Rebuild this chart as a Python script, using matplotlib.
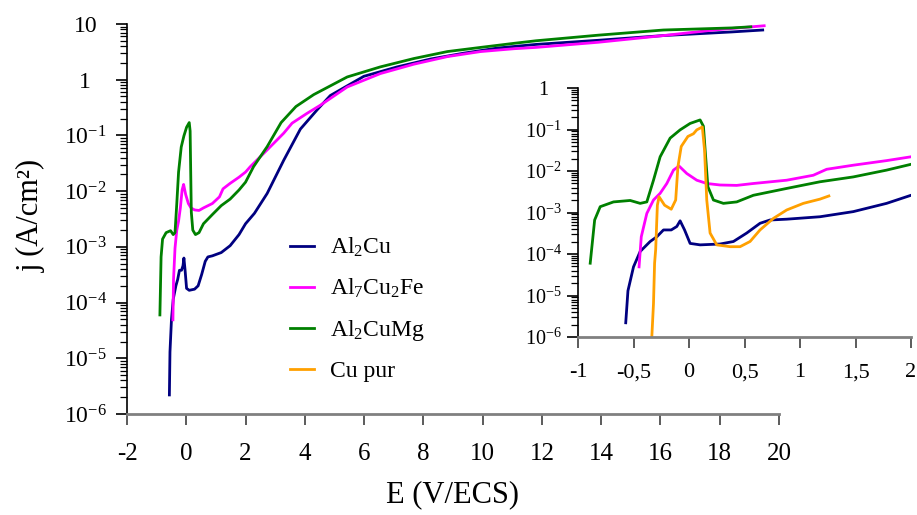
import matplotlib
matplotlib.use("Agg")
import matplotlib.pyplot as plt

plt.rcParams["font.family"] = ["Liberation Serif", "DejaVu Serif"]
plt.rcParams["mathtext.fontset"] = "custom"
plt.rcParams["mathtext.rm"] = "Liberation Serif"
plt.rcParams["mathtext.it"] = "Liberation Serif:italic"
plt.rcParams["mathtext.bf"] = "Liberation Serif:bold"

# data: E (V/ECS) and j (A/cm2)
E_al2cu = [-0.57, -0.55, -0.50, -0.44, -0.35, -0.29, -0.23, -0.16, -0.11, -0.08,
           -0.04, 0.01, 0.10, 0.28, 0.40, 0.52, 0.64, 0.73, 0.88, 1.18, 1.48,
           1.78, 2.0, 2.3, 2.73, 3.29, 3.85, 4.42, 4.86, 5.99, 7.12, 8.24, 9.37,
           10.5, 11.8, 13.9, 16.1, 18.4, 19.45]
j_al2cu = [2.2e-6, 1.3e-5, 4.9e-5, 1.15e-4, 2.0e-4, 2.6e-4, 3.8e-4, 3.8e-4, 4.6e-4, 6.3e-4,
           3.8e-4, 1.8e-4, 1.66e-4, 1.74e-4, 2.0e-4, 3.2e-4, 5.5e-4, 6.6e-4, 6.9e-4, 7.9e-4, 1.05e-3,
           1.66e-3, 2.6e-3, 4.0e-3, 9.1e-3, 3.6e-2, 0.13, 0.29, 0.52, 1.15, 1.7, 2.35, 3.0,
           3.7, 4.3, 5.1, 6.2, 7.2, 7.8]

E_al7cu2fe = [-0.45, -0.43, -0.38, -0.32, -0.26, -0.20, -0.14, -0.09, -0.02, 0.07,
              0.16, 0.28, 0.43, 0.58, 0.88, 1.12, 1.24, 1.48, 1.78, 2.0, 2.16,
              2.73, 3.29, 3.57, 4.08, 4.53, 5.43, 6.55, 7.68, 8.81, 9.93, 11.06,
              11.8, 13.9, 16.1, 17.8, 19.5]
j_al7cu2fe = [4.9e-5, 2.6e-4, 9.5e-4, 2.0e-3, 2.9e-3, 5.0e-3, 1.05e-2, 1.32e-2, 8.7e-3, 6.0e-3,
              5.0e-3, 4.6e-3, 4.5e-3, 5.0e-3, 6.0e-3, 7.9e-3, 1.1e-2, 1.38e-2, 1.78e-2, 2.2e-2, 2.75e-2,
              5.5e-2, 0.11, 0.166, 0.25, 0.35, 0.74, 1.29, 1.9, 2.6, 3.2, 3.6,
              3.8, 4.7, 6.2, 7.8, 9.3]

E_al2cumg = [-0.89, -0.85, -0.80, -0.68, -0.53, -0.44, -0.38, -0.32, -0.26, -0.17,
             -0.08, 0.01, 0.10, 0.13, 0.15, 0.17, 0.22, 0.31, 0.43, 0.58, 0.88,
             1.18, 1.48, 1.78, 2.0, 2.27, 2.73, 3.2, 3.7, 4.3, 5.43, 6.55, 7.68,
             8.81, 9.93, 11.06, 11.8, 13.9, 16.1, 18.4, 19.05]
j_al2cumg = [6.0e-5, 6.6e-4, 1.38e-3, 1.8e-3, 1.95e-3, 1.66e-3, 1.8e-3, 6.0e-3, 2.2e-2, 6.2e-2,
             9.8e-2, 0.14, 0.17, 0.12, 2.2e-2, 4.2e-3, 2.0e-3, 1.66e-3, 1.8e-3, 2.6e-3, 3.8e-3,
             5.5e-3, 7.2e-3, 1.05e-2, 1.45e-2, 2.75e-2, 6.3e-2, 0.17, 0.33, 0.54, 1.12, 1.7, 2.4,
             3.2, 3.8, 4.5, 5.0, 6.3, 7.8, 8.5, 8.9]

E_cu = [-0.335, -0.32, -0.31, -0.30, -0.285, -0.27, -0.22, -0.16, -0.12, -0.10,
        -0.07, -0.01, 0.04, 0.07, 0.12, 0.14, 0.16, 0.19, 0.25, 0.37, 0.46,
        0.55, 0.64, 0.76, 0.88, 1.03, 1.18, 1.26]
j_cu = [1.0e-6, 6.3e-6, 6.0e-5, 1.3e-4, 1.5e-3, 2.4e-3, 1.5e-3, 1.2e-3, 2.0e-3, 1.26e-2,
        3.9e-2, 6.8e-2, 7.9e-2, 9.8e-2, 0.115, 3.2e-2, 2.0e-3, 3.2e-4, 1.66e-4, 1.5e-4, 1.5e-4,
        2.0e-4, 3.8e-4, 7.2e-4, 1.15e-3, 1.66e-3, 2.1e-3, 2.5e-3]

names = ["Al$\\mathregular{_2}$Cu", "Al$\\mathregular{_7}$Cu$\\mathregular{_2}$Fe",
         "Al$\\mathregular{_2}$CuMg", "Cu pur"]
colors = ["#000080", "#FF00FF", "#008000", "#FFA000"]

main_xticks = [-2, 0, 2, 4, 6, 8, 10, 12, 14, 16, 18, 20]
main_yticks = [1e-6, 1e-5, 1e-4, 1e-3, 1e-2, 1e-1, 1, 10]
main_ylabels = ["10$^{-6}$", "10$^{-5}$", "10$^{-4}$", "10$^{-3}$", "10$^{-2}$", "10$^{-1}$", "1", "10"]
inset_xticks = [-1, -0.5, 0, 0.5, 1, 1.5, 2]
inset_xlabels = ["-1", "-0,5", "0", "0,5", "1", "1,5", "2"]
inset_yticks = [1e-6, 1e-5, 1e-4, 1e-3, 1e-2, 1e-1, 1]
inset_ylabels = ["10$^{-6}$", "10$^{-5}$", "10$^{-4}$", "10$^{-3}$", "10$^{-2}$", "10$^{-1}$", "1"]

W, H = 917, 515
fig = plt.figure(figsize=(9.17, 5.15), dpi=100)
ax = fig.add_axes([127 / W, 1 - 414 / H, (779 - 127) / W, (414 - 24) / H])
ins = fig.add_axes([578 / W, 1 - 337 / H, (911 - 578) / W, (337 - 88) / H])

series = [(E_al2cu, j_al2cu), (E_al7cu2fe, j_al7cu2fe), (E_al2cumg, j_al2cumg)]
for (e, j), c in zip(series, colors):
    ax.plot(e, j, color=c, lw=2)

handles = []
for (e, j), c, n in zip(series + [(E_cu, j_cu)], colors, names):
    ln, = ins.plot(e, j, color=c, lw=2, label=n)
    handles.append(ln)


def style(a, xticks, xlabels, yticks, ylabels, xsize, ysize, xpad, ypad):
    a.set_yscale("log")
    a.set_xticks(xticks)
    a.set_xticklabels(xlabels)
    a.set_yticks(yticks)
    a.set_yticklabels(ylabels)
    for s in ["top", "right"]:
        a.spines[s].set_visible(False)
    a.spines["left"].set_color("black")
    a.spines["left"].set_linewidth(1.2)
    a.spines["bottom"].set_color("#808080")
    a.spines["bottom"].set_linewidth(2)
    a.tick_params(axis="x", direction="out", length=8, width=1.2, color="#404040",
                  labelsize=xsize, pad=xpad)
    a.tick_params(axis="y", which="major", direction="out", length=8, width=1.2,
                  labelsize=ysize, pad=ypad)
    a.tick_params(axis="y", which="minor", direction="out", length=5, width=0.9)
    a.tick_params(axis="x", which="minor", bottom=False)
    plt.setp(a.get_yticklabels(), ha="center")


ax.set_xlim(-2, 20)
ax.set_ylim(1e-6, 10)
style(ax, main_xticks, [str(t) for t in main_xticks], main_yticks, main_ylabels, 18, 17, 13, 22)

ins.set_xlim(-1, 2)
ins.set_ylim(1e-6, 1)
style(ins, inset_xticks, inset_xlabels, inset_yticks, inset_ylabels, 16, 14.5, 11, 17)

ax.set_xlabel("E (V/ECS)", fontsize=22)
ax.xaxis.set_label_coords(0.5, -0.17)
ax.set_ylabel("j (A/cm²)", fontsize=22)
ax.yaxis.set_label_coords(-0.125, 0.51)

fig.legend(handles=handles, loc="center left", bbox_to_anchor=(290 / W, 1 - 309 / H),
           frameon=False, fontsize=17, borderpad=0, borderaxespad=0,
           handlelength=1.0, handletextpad=0.7, labelspacing=0.75)

fig.savefig("out.png", dpi=100)
